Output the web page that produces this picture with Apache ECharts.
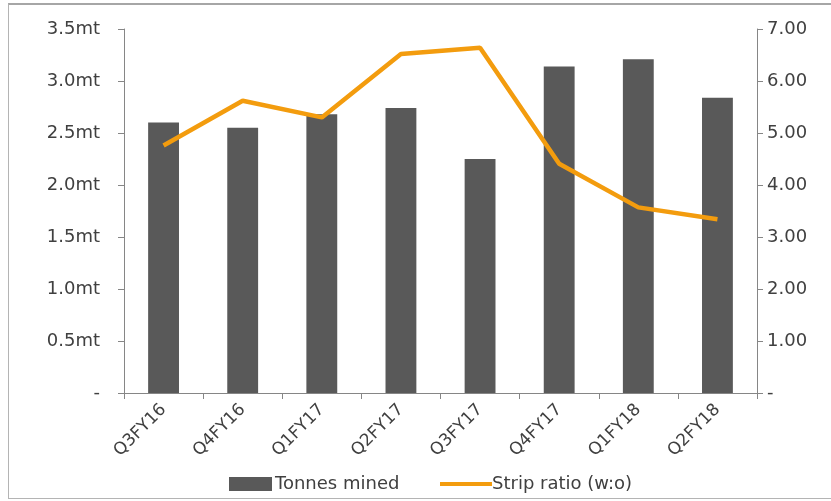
<!DOCTYPE html>
<html>
<head>
<meta charset="utf-8">
<script src="https://cdn.jsdelivr.net/npm/echarts@6/dist/echarts.min.js"></script>
<style>
html,body{margin:0;padding:0;background:#fff;overflow:hidden;}
#wrap{position:absolute;left:0;top:0;width:831px;height:501px;overflow:hidden;}
#frame{position:absolute;left:8px;top:3px;width:840px;height:496px;border:1px solid #b4b4b4;border-top:2px solid #a6a6a6;box-sizing:border-box;}
#chart{position:absolute;left:0;top:0;width:831px;height:501px;}
</style>
</head>
<body>
<div id="wrap"><div id="frame"></div><div id="chart"></div></div>
<script>
const categories = ['Q3FY16','Q4FY16','Q1FY17','Q2FY17','Q3FY17','Q4FY17','Q1FY18','Q2FY18'];
const tonnesMined = [2.60, 2.55, 2.68, 2.74, 2.25, 3.14, 3.21, 2.84];
const stripRatio = [4.76, 5.62, 5.30, 6.52, 6.64, 4.41, 3.57, 3.34];
const leftTicks = {min: 0, max: 3.5, interval: 0.5};
const rightTicks = {min: 0, max: 7, interval: 1};

const axisGrey = '#868686';
const textColor = '#404040';
const font = 'DejaVu Sans';
const orange = '#F39C0E';

const chart = echarts.init(document.getElementById('chart'), null, {renderer: 'canvas'});
chart.setOption({
  animation: false,
  backgroundColor: 'transparent',
  grid: {left: 124, right: 74, top: 29, bottom: 108, containLabel: false},
  legend: [
    {
      data: [{name: 'Tonnes mined', icon: 'rect'}],
      left: 224, top: 470, itemWidth: 43, itemHeight: 14, itemGap: 0,
      textStyle: {fontFamily: font, fontSize: 18, color: textColor, padding: [0,0,0,-2]},
      selectedMode: false
    },
    {
      data: [{name: 'Strip ratio (w:o)', icon: 'rect', itemStyle: {color: orange}}],
      left: 435, top: 470, itemWidth: 52, itemHeight: 4, itemGap: 0,
      textStyle: {fontFamily: font, fontSize: 18, color: textColor, padding: [0,0,0,-5]},
      selectedMode: false
    }
  ],
  xAxis: {
    type: 'category',
    data: categories,
    boundaryGap: true,
    axisLine: {show: true, lineStyle: {color: axisGrey, width: 1}},
    axisTick: {show: true, length: 6, inside: false, alignWithLabel: false, interval: 0, lineStyle: {color: axisGrey}},
    axisLabel: {rotate: 45, interval: 0, margin: 14, fontFamily: font, fontSize: 17, color: textColor},
    splitLine: {show: false}
  },
  yAxis: [
    {
      type: 'value', position: 'left',
      min: leftTicks.min, max: leftTicks.max, interval: leftTicks.interval,
      axisLine: {show: true, lineStyle: {color: axisGrey, width: 1}},
      axisTick: {show: true, length: 6, inside: false, lineStyle: {color: axisGrey}},
      axisLabel: {margin: 24, fontFamily: font, fontSize: 18, color: textColor,
        formatter: v => v === 0 ? '-' : v.toFixed(1) + 'mt'},
      splitLine: {show: false}
    },
    {
      type: 'value', position: 'right',
      min: rightTicks.min, max: rightTicks.max, interval: rightTicks.interval,
      axisLine: {show: true, lineStyle: {color: axisGrey, width: 1}},
      axisTick: {show: true, length: 6, inside: false, lineStyle: {color: axisGrey}},
      axisLabel: {margin: 10, fontFamily: font, fontSize: 18, color: textColor,
        formatter: v => v === 0 ? '-' : v.toFixed(2)},
      splitLine: {show: false}
    }
  ],
  series: [
    {
      name: 'Tonnes mined', type: 'bar', yAxisIndex: 0,
      data: tonnesMined, barWidth: '39%',
      itemStyle: {color: '#595959'}
    },
    {
      name: 'Strip ratio (w:o)', type: 'line', yAxisIndex: 1,
      data: stripRatio, symbol: 'none', showSymbol: false,
      lineStyle: {color: orange, width: 4.5},
      itemStyle: {color: orange}
    }
  ]
});
</script>
</body>
</html>
